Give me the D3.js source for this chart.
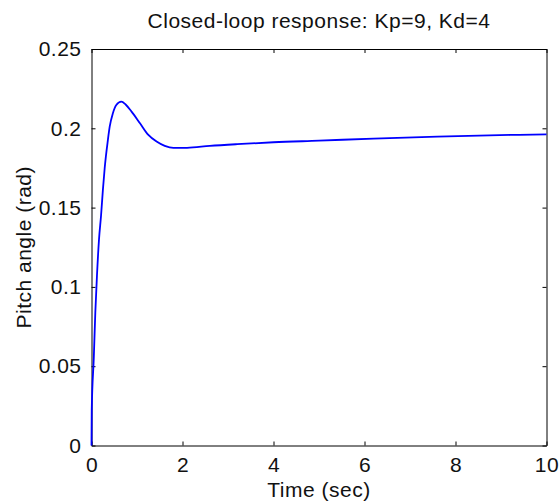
<!DOCTYPE html>
<html>
<head>
<meta charset="utf-8">
<script src="https://cdn.jsdelivr.net/npm/d3@7"></script>
<style>
  body { margin: 0; background: #fff; }
  text { font-family: "Liberation Sans", Arial, sans-serif; fill: #111; }
</style>
</head>
<body>
<svg></svg>
<script>
// step response
var times  = [0, 0.005, 0.05, 0.084, 0.12, 0.165, 0.21, 0.25, 0.29, 0.36, 0.40, 0.47, 0.545, 0.655, 0.75, 0.88, 1.07, 1.25, 1.43, 1.61, 1.80, 2.1, 2.6, 3.2, 4.0, 5.0, 6.2, 7.6, 9.2, 10];
var pitch  = [0, 0.022, 0.055, 0.084, 0.107, 0.130, 0.145, 0.161, 0.175, 0.1926, 0.201, 0.2095, 0.2147, 0.2168, 0.2150, 0.2105, 0.203, 0.1958, 0.1916, 0.1889, 0.1876, 0.1877, 0.1889, 0.1900, 0.1912, 0.1922, 0.1935, 0.1947, 0.1958, 0.1962];
var xTicks = [0, 2, 4, 6, 8, 10];
var yTicks = [0, 0.05, 0.1, 0.15, 0.2, 0.25];

(function draw() {
  var width = 559, height = 502;
  var pLeft = 91.5, pRight = 546.5, pTop = 49, pBottom = 445.5;
  var fs = '21px';

  var svg = d3.select('svg').attr('width', width).attr('height', height);

  var x = d3.scaleLinear().domain([0, 10]).range([pLeft, pRight]);
  var y = d3.scaleLinear().domain([0, 0.25]).range([pBottom, pTop]);

  // inward ticks, matlab style
  svg.append('g').attr('transform', 'translate(0,' + pBottom + ')')
    .call(d3.axisBottom(x).tickValues(xTicks).tickSizeInner(-4).tickSizeOuter(0).tickPadding(12).tickFormat(d3.format('d')));
  svg.append('g').attr('transform', 'translate(0,' + pTop + ')')
    .call(d3.axisTop(x).tickValues(xTicks).tickSizeInner(-4).tickSizeOuter(0).tickFormat(''));
  svg.append('g').attr('transform', 'translate(' + pLeft + ',0)')
    .call(d3.axisLeft(y).tickValues(yTicks).tickSizeInner(-4).tickSizeOuter(0).tickPadding(10)
      .tickFormat(function(d){ return String(+d.toFixed(2)); }));
  svg.append('g').attr('transform', 'translate(' + pRight + ',0)')
    .call(d3.axisRight(y).tickValues(yTicks).tickSizeInner(-4).tickSizeOuter(0).tickFormat(''));

  svg.selectAll('.domain').attr('stroke', '#000');
  svg.selectAll('.tick line').attr('stroke', '#000');
  svg.selectAll('.tick text').style('font-size', fs).style('letter-spacing', '0.5px').attr('fill', '#111')
    .style('font-family', '"Liberation Sans", Arial, sans-serif');

  svg.append('path')
    .datum(d3.range(times.length))
    .attr('fill', 'none')
    .attr('stroke', '#0000ff')
    .attr('stroke-width', 1.8)
    .attr('d', d3.line().x(function(i){ return x(times[i]); }).y(function(i){ return y(pitch[i]); }).curve(d3.curveMonotoneX));

  svg.append('text').attr('x', (pLeft + pRight) / 2).attr('y', 28)
    .attr('text-anchor', 'middle').style('font-size', fs).style('letter-spacing', '0.5px')
    .text('Closed-loop response: Kp=9, Kd=4');

  svg.append('text').attr('x', (pLeft + pRight) / 2).attr('y', 497)
    .attr('text-anchor', 'middle').style('font-size', fs).style('letter-spacing', '0.5px')
    .text('Time (sec)');

  svg.append('text').attr('transform', 'translate(31,' + ((pTop + pBottom) / 2) + ') rotate(-90)')
    .attr('text-anchor', 'middle').style('font-size', fs).style('letter-spacing', '0.5px')
    .text('Pitch angle (rad)');
})();
</script>
</body>
</html>
